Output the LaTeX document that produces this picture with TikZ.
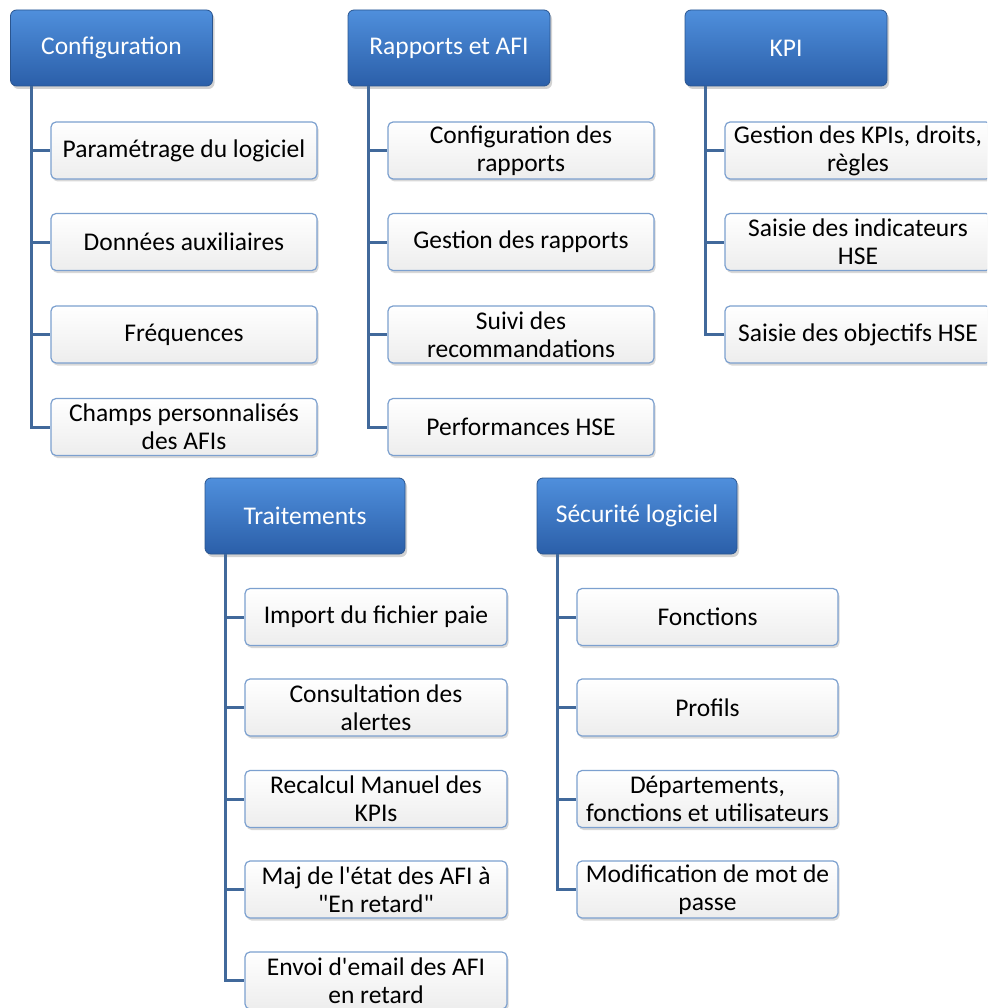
\documentclass[tikz,border=0pt]{standalone}
\usepackage{fontspec}
\setmainfont{Carlito}[Ligatures=TeXOff]
\usetikzlibrary{shadows}
\definecolor{hdrtop}{HTML}{4F8FDC}
\definecolor{hdrbot}{HTML}{2B5FA9}
\definecolor{hdrline}{HTML}{2A558F}
\definecolor{itemline}{HTML}{7CA0CF}
\definecolor{trunk}{HTML}{41699B}
\tikzset{
  header/.style={rounded corners=6pt, draw=hdrline, line width=0.8pt,
    top color=hdrtop, bottom color=hdrbot,
    drop shadow={shadow xshift=2pt, shadow yshift=-3pt, opacity=0.35},
    minimum width=202pt, minimum height=76pt, text=white,
    font=\fontsize{25.5}{28}\selectfont, inner sep=2pt},
  item/.style={rounded corners=5pt, draw=itemline, line width=1.2pt,
    top color=white, bottom color=black!7,
    drop shadow={shadow xshift=1.5pt, shadow yshift=-2.5pt, opacity=0.3},
    minimum width=266pt, minimum height=57pt, align=center,
    font=\fontsize{25.5}{28}\selectfont, inner sep=1pt, text=black},
  conn/.style={draw=trunk, line width=3pt}
}
\begin{document}
\begin{tikzpicture}[x=1pt,y=-1pt]
\clip (0,0) rectangle (987,1008);
\fill[white] (0,0) rectangle (987,1008);

% group headers
\node[header] (h1) at (111.5,48) {Configuration};
\node[header] (h2) at (449,48) {Rapports et AFI};
\node[header] (h3) at (786,48) {KPI};
\node[header, minimum width=200pt] (h4) at (305,516) {Traitements};
\node[header, minimum width=200pt] (h5) at (637,516) {Sécurité logiciel};

% trunk anchors
\coordinate (t1) at (31,86);
\coordinate (t2) at (368,86);
\coordinate (t3) at (705,86);
\coordinate (t4) at (225,554);
\coordinate (t5) at (557,554);

% Configuration
\node[item] (c11) at (184,150.5) {Paramétrage du logiciel};
\node[item] (c12) at (184,242) {Données auxiliaires};
\node[item] (c13) at (184,334.5) {Fréquences};
\node[item] (c14) at (184,427) {Champs personnalisés\\des AFIs};

% Rapports et AFI
\node[item] (c21) at (521,150.5) {Configuration des\\rapports};
\node[item] (c22) at (521,242) {Gestion des rapports};
\node[item] (c23) at (521,334.5) {Suivi des\\recommandations};
\node[item] (c24) at (521,427) {Performances HSE};

% KPI
\node[item] (c31) at (858,150.5) {Gestion des KPIs, droits,\\règles};
\node[item] (c32) at (858,242) {Saisie des indicateurs\\HSE};
\node[item] (c33) at (858,334.5) {Saisie des objectifs HSE};

% Traitements
\node[item, minimum width=262pt] (c41) at (376,617) {Import du fichier paie};
\node[item, minimum width=262pt] (c42) at (376,707.5) {Consultation des\\alertes};
\node[item, minimum width=262pt] (c43) at (376,799) {Recalcul Manuel des\\KPIs};
\node[item, minimum width=262pt] (c44) at (376,889.5) {Maj de l'état des AFI à\\"En retard"};
\node[item, minimum width=262pt] (c45) at (376,980.5) {Envoi d'email des AFI\\en retard};

% Sécurité logiciel
\node[item, minimum width=261pt] (c51) at (707.5,617) {Fonctions};
\node[item, minimum width=261pt] (c52) at (707.5,707.5) {Profils};
\node[item, minimum width=261pt] (c53) at (707.5,799) {Départements,\\fonctions et utilisateurs};
\node[item, minimum width=261pt] (c54) at (707.5,889.5) {Modification de mot de\\passe};

% connectors: one trunk per group, one branch per item
\draw[conn] (t1) |- (c14.west);
\foreach \c in {c11,c12,c13} \draw[conn] (t1 |- \c.west) -- (\c.west);
\draw[conn] (t2) |- (c24.west);
\foreach \c in {c21,c22,c23} \draw[conn] (t2 |- \c.west) -- (\c.west);
\draw[conn] (t3) |- (c33.west);
\foreach \c in {c31,c32} \draw[conn] (t3 |- \c.west) -- (\c.west);
\draw[conn] (t4) |- (c45.west);
\foreach \c in {c41,c42,c43,c44} \draw[conn] (t4 |- \c.west) -- (\c.west);
\draw[conn] (t5) |- (c54.west);
\foreach \c in {c51,c52,c53} \draw[conn] (t5 |- \c.west) -- (\c.west);
\end{tikzpicture}
\end{document}
